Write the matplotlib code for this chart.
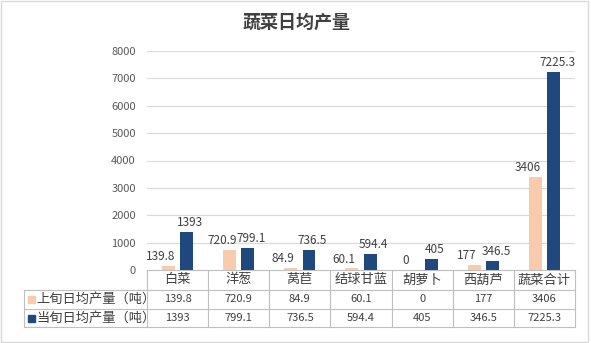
import numpy as np
import matplotlib.pyplot as plt

plt.rcParams['font.family'] = ['Noto Sans CJK SC', 'DejaVu Sans']

categories = ['白菜', '洋葱', '莴苣', '结球甘蓝', '胡萝卜', '西葫芦', '蔬菜合计']
series_names = ['上旬日均产量（吨）', '当旬日均产量（吨）']
prev_vals = [139.8, 720.9, 84.9, 60.1, 0, 177, 3406]
curr_vals = [1393, 799.1, 736.5, 594.4, 405, 346.5, 7225.3]
colors = ['#F8CBAD', '#1F497D']
yticks = [0, 1000, 2000, 3000, 4000, 5000, 6000, 7000, 8000]

W, H = 591, 343
fig = plt.figure(figsize=(W / 100, H / 100), dpi=100)

# pixel layout
x0, x1 = 147, 575
y_top, y_zero = 51, 270
row_y = [270, 290, 309, 327]
lab_x = 24
grid_c = '#D9D9D9'
txt_c = '#404040'

ax = fig.add_axes([x0 / W, 1 - y_zero / H, (x1 - x0) / W, (y_zero - y_top) / H])
n = len(categories)
x = np.arange(n)
bw = 0.21
off = 0.15
b1 = ax.bar(x - off, prev_vals, bw, color=colors[0], zorder=3)
b2 = ax.bar(x + off, curr_vals, bw, color=colors[1], zorder=3)
# peach labels pushed left, navy labels a bit right so they don't collide
for bars, vals, dx in [(b1, prev_vals, -5.5), (b2, curr_vals, 2.5)]:
    for r, v in zip(bars, vals):
        ax.annotate('%g' % v, (r.get_x() + r.get_width() / 2, v), xytext=(dx, 2),
                    textcoords='offset points', ha='center', va='bottom',
                    fontsize=8.5, color=txt_c, zorder=4)
ax.set_xlim(-0.5, n - 0.5)
ax.set_ylim(0, 8000)
ax.set_yticks(yticks)
ax.set_yticklabels([str(t) for t in yticks], fontsize=8, color='#595959')
ax.set_xticks([])
ax.tick_params(axis='y', length=0, pad=8)
ax.grid(axis='y', color=grid_c, linewidth=0.8, zorder=0)
for s in ax.spines.values():
    s.set_visible(False)

# overlay in pixel coordinates for table, title and border
ov = fig.add_axes([0, 0, 1, 1], zorder=-1)
ov.set_xlim(0, W)
ov.set_ylim(H, 0)
ov.axis('off')
ov.patch.set_alpha(0)

ov.add_patch(plt.Rectangle((0.5, 0.5), 587.5, 341.5, fill=False, edgecolor='#D9D9D9', lw=1))
ov.text(297, 22, '蔬菜日均产量', ha='center', va='center', fontsize=13,
        fontweight='bold', color=txt_c)

col_w = (x1 - x0) / n
tc = '#BFBFBF'
ov.plot([x0, x1], [row_y[0]] * 2, color=tc, lw=0.8)
for yy in row_y[1:]:
    ov.plot([lab_x, x1], [yy] * 2, color=tc, lw=0.8)
ov.plot([lab_x, lab_x], [row_y[1], row_y[3]], color=tc, lw=0.8)
for i in range(n + 1):
    xx = x0 + i * col_w
    ov.plot([xx, xx], [row_y[0], row_y[3]], color=tc, lw=0.8)

for i, c in enumerate(categories):
    ov.text(x0 + (i + 0.5) * col_w, (row_y[0] + row_y[1]) / 2, c, ha='center',
            va='center', fontsize=9.5, color=txt_c)
for r, (name, vals) in enumerate(zip(series_names, [prev_vals, curr_vals])):
    yc = (row_y[r + 1] + row_y[r + 2]) / 2
    ov.add_patch(plt.Rectangle((lab_x + 4, yc - 3.5), 7, 7, color=colors[r]))
    ov.text(lab_x + 12, yc, name, ha='left', va='center', fontsize=9.5, color=txt_c)
    for i, v in enumerate(vals):
        ov.text(x0 + (i + 0.5) * col_w, yc, '%g' % v, ha='center', va='center',
                fontsize=8, color=txt_c)

fig.savefig('out.png', dpi=100)
